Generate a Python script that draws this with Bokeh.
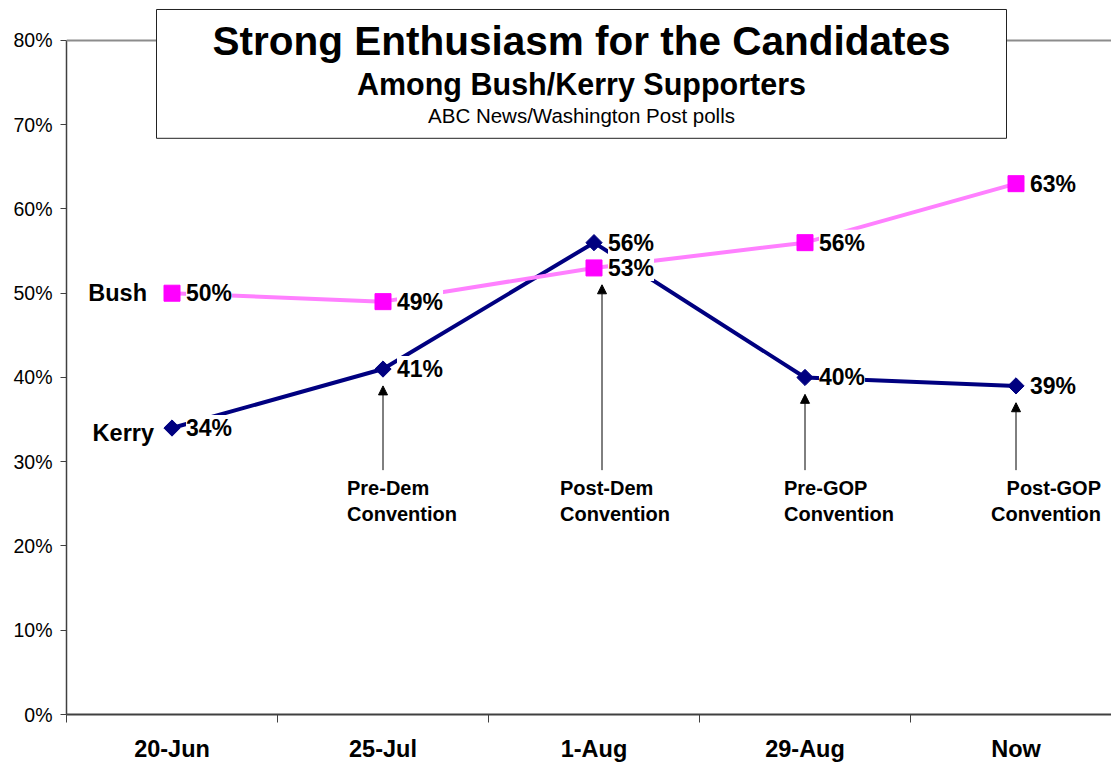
from bokeh.plotting import figure
from bokeh.models import (ColumnDataSource, LabelSet, Label, Span, BoxAnnotation,
                          Arrow, NormalHead, FixedTicker, PrintfTickFormatter)
from bokeh.core.properties import value
from bokeh.embed import file_html
from bokeh.resources import INLINE
import math

# ---------------- data ----------------
dates = ["20-Jun", "25-Jul", "1-Aug", "29-Aug", "Now"]
bush = [50, 49, 53, 56, 63]
kerry = [34, 41, 56, 40, 39]
events = ["Pre-Dem\nConvention", "Post-Dem\nConvention", "Pre-GOP\nConvention", "Post-GOP\nConvention"]
event_idx = [1, 2, 3, 4]
y_ticks = [0, 10, 20, 30, 40, 50, 60, 70, 80]
title = "Strong Enthusiasm for the Candidates"
subtitle = "Among Bush/Kerry Supporters"
source = "ABC News/Washington Post polls"

# ---------------- layout (pixels) ----------------
W, H = 1111, 764
FRAME_LEFT = 66
FRAME_BOTTOM_BORDER = 49
FRAME_W = W - FRAME_LEFT
FRAME_H = H - FRAME_BOTTOM_BORDER
PX_PER_CAT = 211.0
TOP80_PX = 40.0
PX_PER_PT = (FRAME_H - TOP80_PX) / 80.0
X_START = -0.5
X_END = X_START + FRAME_W / PX_PER_CAT
Y_END = 80 + TOP80_PX / PX_PER_PT


def fx(px):
    return X_START + (px - FRAME_LEFT) / PX_PER_CAT


def fy(py):
    return Y_END - py / PX_PER_PT


FONT = "Liberation Sans"
BUSH_LINE = "#FF80FF"
BUSH_MARK = "#FF00FF"
KERRY = "#000080"

p = figure(width=W, height=H, output_backend="svg", toolbar_location=None,
           x_range=(X_START, X_END), y_range=(0, Y_END),
           min_border_left=FRAME_LEFT, min_border_right=0, min_border_top=0,
           min_border_bottom=FRAME_BOTTOM_BORDER)
p.outline_line_color = None
p.xgrid.visible = False
p.ygrid.visible = False
p.background_fill_color = "white"
p.border_fill_color = "white"

x = list(range(len(dates)))

# y axis
ya = p.yaxis[0]
ya.bounds = (0, 80)
ya.ticker = FixedTicker(ticks=y_ticks, minor_ticks=[])
ya.formatter = PrintfTickFormatter(format="%d%%")
ya.axis_line_color = "#404040"
ya.axis_line_width = 1.5
ya.major_tick_line_color = "#404040"
ya.major_tick_out = 6
ya.major_tick_in = 0
ya.major_label_standoff = 8
ya.major_label_text_font = FONT
ya.major_label_text_font_size = "19.5px"
ya.major_label_text_color = "black"

# x axis
xa = p.xaxis[0]
xa.ticker = FixedTicker(ticks=x, minor_ticks=[i - 0.5 for i in range(len(dates) + 1)])
xa.major_label_overrides = {i: d for i, d in enumerate(dates)}
xa.axis_line_color = "#404040"
xa.axis_line_width = 2
xa.major_tick_out = 0
xa.major_tick_in = 0
xa.minor_tick_out = 8
xa.minor_tick_in = 0
xa.minor_tick_line_color = "#404040"
xa.minor_tick_line_width = 1
xa.major_label_standoff = 13
xa.major_label_text_font = FONT
xa.major_label_text_font_style = "bold"
xa.major_label_text_font_size = "23.5px"
xa.major_label_text_color = "black"

# top gray line at 80%
p.add_layout(Span(location=80, dimension="width", line_color="#8c8c8c", line_width=2))

# title box
p.add_layout(BoxAnnotation(left=fx(156), right=fx(1006), top=fy(9), bottom=fy(138),
                           fill_color="white", fill_alpha=1.0,
                           line_color="#222222", line_width=1, line_alpha=1.0))
cx = fx((156 + 1006) / 2)
p.add_layout(Label(x=cx, y=fy(41), text=title, text_align="center", text_baseline="alphabetic",
                   text_font=FONT, text_font_style="bold", text_font_size="40.5px", text_color="black"))
p.add_layout(Label(x=cx, y=fy(84), text=subtitle, text_align="center", text_baseline="alphabetic",
                   text_font=FONT, text_font_style="bold", text_font_size="30.5px", text_color="black"))
p.add_layout(Label(x=cx, y=fy(115), text=source, text_align="center", text_baseline="alphabetic",
                   text_font=FONT, text_font_size="20.5px", text_color="black"))

# series
kerry_src = ColumnDataSource(dict(x=x, y=kerry, lab=[f"{v}%" for v in kerry]))
bush_src = ColumnDataSource(dict(x=x, y=bush, lab=[f"{v}%" for v in bush]))

p.line("x", "y", source=kerry_src, line_color=KERRY, line_width=4)
p.scatter("x", "y", source=kerry_src, marker="square", angle=math.pi / 4, size=11.5,
          fill_color=KERRY, line_color=KERRY)
p.line("x", "y", source=bush_src, line_color=BUSH_LINE, line_width=4)
p.scatter("x", "y", source=bush_src, marker="square", size=16,
          fill_color=BUSH_MARK, line_color=BUSH_MARK)

# arrows
arrow_dx = [0, 8, 0, 0]
for k, (i, ev) in enumerate(zip(event_idx, events)):
    target = min(bush[i], kerry[i])
    xi = i + arrow_dx[k] / PX_PER_CAT
    p.add_layout(Arrow(end=NormalHead(size=9, fill_color="black", line_color="black", line_width=1),
                       x_start=xi, y_start=29, x_end=xi, y_end=target - 2,
                       line_color="black", line_width=1))

# event labels
ev_align = ["left", "left", "left", "right"]
ev_dx = [-36, -34, -21, 85]
for k, (i, ev) in enumerate(zip(event_idx, events)):
    p.add_layout(Label(x=i + ev_dx[k] / PX_PER_CAT, y=fy(477), text=ev,
                       text_align=ev_align[k], text_baseline="top", text_line_height=1.2,
                       text_font=FONT, text_font_style="bold", text_font_size="20px",
                       text_color="black"))

# data labels
for src in (kerry_src, bush_src):
    p.add_layout(LabelSet(x="x", y="y", text="lab", source=src, x_offset=14, y_offset=0,
                          text_align="left", text_baseline="middle",
                          text_font=value(FONT), text_font_style="bold", text_font_size="23px",
                          text_color="black", background_fill_color="white",
                          background_fill_alpha=1.0))

# series names
p.add_layout(Label(x=x[0], y=bush[0], text="Bush", x_offset=-25, y_offset=0,
                   text_align="right", text_baseline="middle",
                   text_font=FONT, text_font_style="bold", text_font_size="23.5px", text_color="black"))
p.add_layout(Label(x=x[0], y=kerry[0], text="Kerry", x_offset=-18, y_offset=-5,
                   text_align="right", text_baseline="middle",
                   text_font=FONT, text_font_style="bold", text_font_size="23.5px", text_color="black"))

open("out.html", "w").write(file_html(p, INLINE))
